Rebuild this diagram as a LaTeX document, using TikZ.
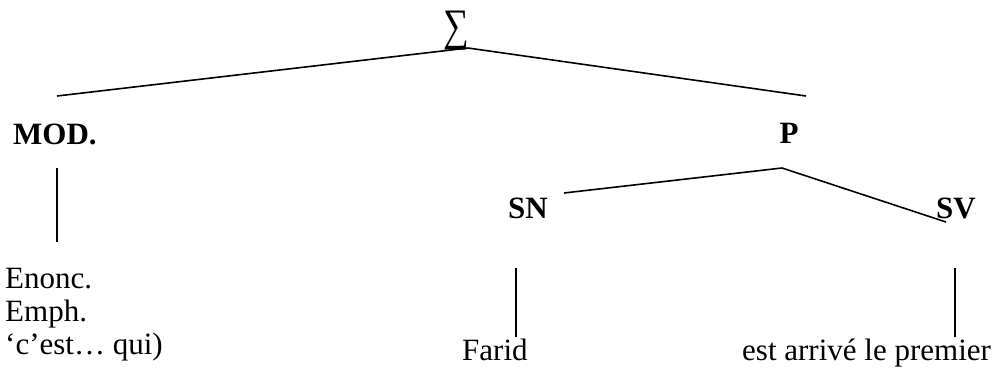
\documentclass[tikz,border=0pt]{standalone}
\usepackage{fontspec}
\setmainfont{Liberation Serif}
\begin{document}
\begin{tikzpicture}[x=1pt,y=-1pt,
  lab/.style={font=\fontsize{31}{35}\selectfont, inner sep=0pt, anchor=base west},
  blab/.style={font=\fontsize{31}{35}\selectfont\bfseries, inner sep=0pt, anchor=base},
  slant/.style={line width=1.6pt},
  vert/.style={line width=1.2pt}]
\useasboundingbox (0,0) rectangle (999,370);
% root
\node[inner sep=0pt, anchor=base, font=\fontsize{45}{45}\selectfont] (sigma) at (456,40) {\scalebox{0.8}[1]{∑}};
\coordinate (a) at (468,48);
\coordinate (l1) at (57,96);
\coordinate (r1) at (806,96);
\draw[slant] (l1) -- (a) -- (r1);
% level 1
\node[blab, anchor=base west] (mod) at (13,144) {MOD.};
\node[blab] (p) at (789,143) {P};
% MOD branch
\coordinate (m1) at (57,168);
\coordinate (m2) at (57,242);
\draw[vert] (m1) -- (m2);
\node[lab] (enonc) at (5,288) {Enonc.};
\node[lab] (emph) at (5,321) {Emph.};
\node[lab] (cest) at (5,354) {‘c’est… qui)};
% P branch
\coordinate (b) at (782,168);
\coordinate (snl) at (564,193);
\coordinate (svl) at (946,222);
\draw[slant] (snl) -- (b) -- (svl);
\node[blab] (sn) at (528,218) {SN};
\node[blab] (sv) at (956,218) {SV};
\coordinate (n1) at (516,268);
\coordinate (n2) at (516,337);
\draw[vert] (n1) -- (n2);
\coordinate (v1) at (955,268);
\coordinate (v2) at (955,337);
\draw[vert] (v1) -- (v2);
\node[lab] (farid) at (462,360) {Farid};
\node[lab] (est) at (742,360) {est arrivé le premier};
\end{tikzpicture}
\end{document}
